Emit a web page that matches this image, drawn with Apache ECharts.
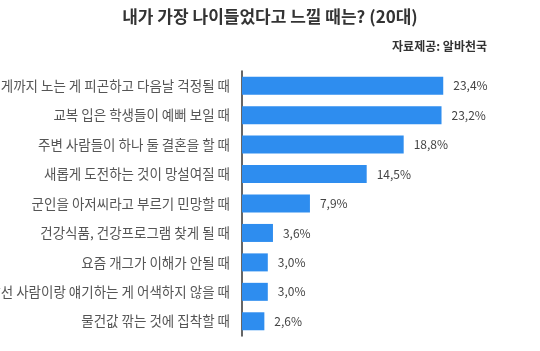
<!DOCTYPE html>
<html>
<head>
<meta charset="utf-8">
<script src="https://cdn.jsdelivr.net/npm/echarts@6/dist/echarts.min.js"></script>
<style>
    html, body { margin: 0; padding: 0; background: #fff; }
    #chart { width: 540px; height: 351px; }
</style>
</head>
<body>
<div id="chart"></div>
<script>
const categories = [
    '밤늦게까지 노는 게 피곤하고 다음날 걱정될 때',
    '교복 입은 학생들이 예뻐 보일 때',
    '주변 사람들이 하나 둘 결혼을 할 때',
    '새롭게 도전하는 것이 망설여질 때',
    '군인을 아저씨라고 부르기 민망할 때',
    '건강식품, 건강프로그램 찾게 될 때',
    '요즘 개그가 이해가 안될 때',
    '낯선 사람이랑 얘기하는 게 어색하지 않을 때',
    '물건값 깎는 것에 집착할 때'
];
const values = [23.4, 23.2, 18.8, 14.5, 7.9, 3.6, 3.0, 3.0, 2.6];

const font = '"Noto Sans CJK KR", "Noto Sans", sans-serif';
const chart = echarts.init(document.getElementById('chart'));
chart.setOption({
    backgroundColor: '#fff',
    animation: false,
    title: [
        {
            text: '내가 가장 나이들었다고 느낄 때는? (20대)',
            left: 'center',
            top: 3,
            textStyle: { fontFamily: font, fontSize: 17, fontWeight: 'bold', color: '#333' }
        },
        {
            text: '자료제공: 알바천국',
            right: 48,
            top: 35,
            textStyle: { fontFamily: font, fontSize: 12, fontWeight: 'bold', color: '#333' }
        }
    ],
    grid: {
        left: 242, right: 40, top: 71, bottom: 15,
        containLabel: false,
        outerBoundsMode: 'none'
    },
    xAxis: {
        type: 'value',
        min: 0,
        max: 30,
        show: false
    },
    yAxis: {
        type: 'category',
        inverse: true,
        data: categories,
        axisLine: { show: true, lineStyle: { color: '#333', width: 1.5 } },
        axisTick: { show: false },
        axisLabel: { fontFamily: font, fontSize: 13.5, color: '#555', margin: 12 }
    },
    series: [{
        type: 'bar',
        data: values,
        barWidth: 18,
        itemStyle: { color: '#2E8DEF' },
        label: {
            show: true,
            position: 'right',
            distance: 10,
            fontFamily: font,
            fontSize: 12,
            color: '#444',
            formatter: p => p.value.toFixed(1).replace('.', ',') + '%'
        }
    }]
});
</script>
</body>
</html>
